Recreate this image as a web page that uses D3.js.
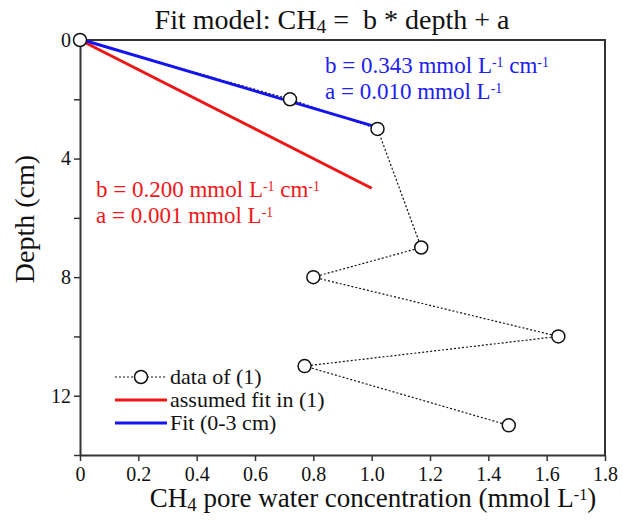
<!DOCTYPE html>
<html>
<head>
<meta charset="utf-8">
<script src="https://cdn.jsdelivr.net/npm/d3@7/dist/d3.min.js"></script>
<style>
  body { margin: 0; background: #fff; }
  svg text { font-family: "Liberation Serif", "Times New Roman", serif; }
</style>
</head>
<body>
<svg id="chart" width="623" height="522"></svg>
<script>
// data
var conc  = [0, 0.72, 1.02, 1.17, 0.80, 1.64, 0.77, 1.47];
var depth = [0, 2, 3, 7, 8, 10, 11, 13];
var assumedFit = [[0, 0], [1.0, 5]];      // [conc, depth]
var fit03 = [[0.01, 0], [1.039, 3]];
var xTicks = [0, 0.2, 0.4, 0.6, 0.8, 1.0, 1.2, 1.4, 1.6, 1.8];
var xTickLabels = ['0', '0.2', '0.4', '0.6', '0.8', '1.0', '1.2', '1.4', '1.6', '1.8'];
var yTicks = [0, 2, 4, 6, 8, 10, 12, 14];
var yLabelled = [0, 4, 8, 12];

var serif = '"Liberation Serif", "Times New Roman", serif';
var svg = d3.select('#chart');
var margin = {left: 80, top: 40, right: 18, bottom: 67};
var W = 623 - margin.left - margin.right,
    H = 522 - margin.top - margin.bottom;

var x = d3.scaleLinear().domain([0, 1.8]).range([0, W]);
var y = d3.scaleLinear().domain([0, 14]).range([0, H]);

var g = svg.append('g').attr('transform', 'translate(' + margin.left + ',' + margin.top + ')');

// frame (top + right)
g.append('path')
  .attr('d', 'M0,0H' + W + 'V' + H)
  .attr('fill', 'none').attr('stroke', '#333').attr('stroke-width', 2);

var xAxis = g.append('g').attr('transform', 'translate(0,' + H + ')')
  .call(d3.axisBottom(x).tickValues(xTicks).tickSize(6).tickSizeOuter(0)
    .tickFormat(function(d, i){ return xTickLabels[i]; }));
var yAxis = g.append('g')
  .call(d3.axisLeft(y).tickValues(yTicks).tickSize(6).tickSizeOuter(0)
    .tickFormat(function(d){ return yLabelled.indexOf(d) >= 0 ? d : ''; }));

[xAxis, yAxis].forEach(function(a){
  a.attr('font-family', serif).attr('font-size', 20);
  a.select('.domain').attr('stroke', '#333').attr('stroke-width', 2);
  a.selectAll('.tick line').attr('stroke', '#333').attr('stroke-width', 1.5);
  a.selectAll('.tick text').attr('font-family', serif).attr('font-size', 20).attr('fill', '#111');
});
xAxis.selectAll('.tick text').attr('y', 9).attr('dy', '0.85em');
yAxis.selectAll('.tick text').attr('x', -9);

// data line
var line = d3.line().x(function(d){ return x(d[0]); }).y(function(d){ return y(d[1]); });
var pts = conc.map(function(c, i){ return [c, depth[i]]; });

g.append('path').datum(pts).attr('d', line)
  .attr('fill', 'none').attr('stroke', '#111').attr('stroke-width', 1.2)
  .attr('stroke-dasharray', '2,2');
g.append('path').datum(assumedFit).attr('d', line)
  .attr('fill', 'none').attr('stroke', '#f01414').attr('stroke-width', 3);
g.append('path').datum(fit03).attr('d', line)
  .attr('fill', 'none').attr('stroke', '#1414f0').attr('stroke-width', 3);

g.selectAll('circle.pt').data(pts).enter().append('circle')
  .attr('class', 'pt')
  .attr('cx', function(d){ return x(d[0]); })
  .attr('cy', function(d){ return y(d[1]); })
  .attr('r', 6.5)
  .attr('fill', '#fff').attr('stroke', '#111').attr('stroke-width', 1.5);

// text helpers
function supText(sel, parts) {
  sel.attr('font-family', serif);
  parts.forEach(function(p){
    var t = sel.append('tspan').text(p[0]);
    if (p[1] === 'sup') t.attr('font-size', '0.6em').attr('baseline-shift', '45%');
    if (p[1] === 'sub') t.attr('font-size', '0.7em').attr('baseline-shift', '-20%');
  });
}

// annotations
var blue = '#2020f0', red = '#f01818';
supText(svg.append('text').attr('x', 325).attr('y', 73).attr('font-size', 23).attr('fill', blue),
  [['b = 0.343 mmol L'], ['-1', 'sup'], [' cm'], ['-1', 'sup']]);
supText(svg.append('text').attr('x', 325).attr('y', 99).attr('font-size', 23).attr('fill', blue),
  [['a = 0.010 mmol L'], ['-1', 'sup']]);
supText(svg.append('text').attr('x', 96).attr('y', 197).attr('font-size', 23).attr('fill', red),
  [['b = 0.200 mmol L'], ['-1', 'sup'], [' cm'], ['-1', 'sup']]);
supText(svg.append('text').attr('x', 96).attr('y', 223).attr('font-size', 23).attr('fill', red),
  [['a = 0.001 mmol L'], ['-1', 'sup']]);

// title
supText(svg.append('text').attr('x', 332).attr('y', 29).attr('text-anchor', 'middle')
  .attr('font-size', 28).attr('fill', '#111').attr('xml:space', 'preserve'),
  [['Fit model: CH'], ['4', 'sub'], [' =  b * depth + a']]);

// axis titles
supText(svg.append('text').attr('x', 373).attr('y', 507).attr('text-anchor', 'middle')
  .attr('font-size', 27).attr('fill', '#111'),
  [['CH'], ['4', 'sub'], [' pore water concentration (mmol L'], ['-1', 'sup'], [')']]);
svg.append('text').attr('transform', 'translate(34,219) rotate(-90)')
  .attr('text-anchor', 'middle').attr('font-size', 28).attr('fill', '#111')
  .attr('font-family', serif)
  .text('Depth (cm)');

// legend
var legend = [
  {label: 'data of (1)', type: 'data'},
  {label: 'assumed fit in (1)', type: 'line', color: '#f01414'},
  {label: 'Fit (0-3 cm)', type: 'line', color: '#1414f0'}
];
var lg = svg.append('g').attr('transform', 'translate(115,377)');
legend.forEach(function(d, i){
  var row = lg.append('g').attr('transform', 'translate(0,' + (i * 23) + ')');
  if (d.type === 'data') {
    row.append('line').attr('x1', 0).attr('x2', 52)
      .attr('stroke', '#111').attr('stroke-width', 1.2).attr('stroke-dasharray', '2,2');
    row.append('circle').attr('cx', 26).attr('r', 6.5)
      .attr('fill', '#fff').attr('stroke', '#111').attr('stroke-width', 1.5);
  } else {
    row.append('line').attr('x1', 0).attr('x2', 52)
      .attr('stroke', d.color).attr('stroke-width', 3);
  }
  row.append('text').attr('x', 55).attr('y', 7).attr('font-size', 22).attr('fill', '#111')
    .attr('font-family', serif)
    .text(d.label);
});
</script>
</body>
</html>
